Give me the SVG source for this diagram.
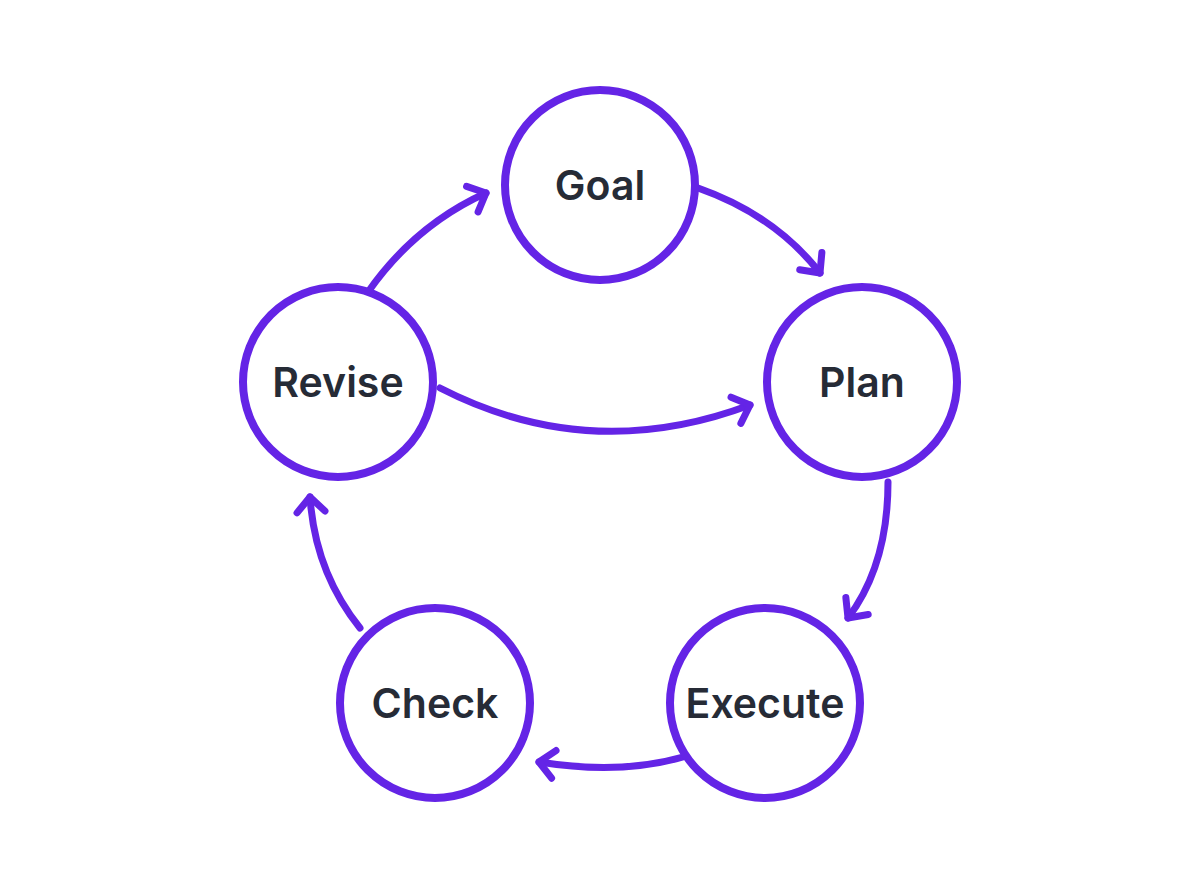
<svg xmlns="http://www.w3.org/2000/svg" width="1200" height="896" viewBox="0 0 1200 896">
<style>
.n{fill:#fff;stroke:#6424e6;stroke-width:8}
.t{font-family:Inter,"Liberation Sans",sans-serif;font-weight:600;font-size:41px;fill:#262b36;text-anchor:middle;dominant-baseline:central}
.c{fill:none;stroke:#6424e6;stroke-width:7;stroke-linecap:round}
</style>
<defs>
<marker id="a" markerUnits="userSpaceOnUse" markerWidth="40" markerHeight="40" refX="20" refY="20" orient="auto" viewBox="0 0 40 40">
<path d="M5 6 L20 20 L5 34" fill="none" stroke="#6424e6" stroke-width="7" stroke-linecap="round" stroke-linejoin="round"/>
</marker>
</defs>
<rect width="1200" height="896" fill="#fff"/>
<g id="connectors">
<path class="c" d="M368 292 Q415 225 486 193" marker-end="url(#a)"/>
<path class="c" d="M698 188 Q775 215 820 273" marker-end="url(#a)"/>
<path class="c" d="M440 388 Q590 465 750 405" marker-end="url(#a)"/>
<path class="c" d="M888 482 Q888 565 848 618" marker-end="url(#a)"/>
<path class="c" d="M683 757 Q620 775 539 762" marker-end="url(#a)"/>
<path class="c" d="M360 628 Q315 572 310 497" marker-end="url(#a)"/>
</g>
<g id="goal"><circle class="n" cx="600" cy="185" r="95"/><text class="t" x="600" y="185">Goal</text></g>
<g id="plan"><circle class="n" cx="862" cy="382" r="95"/><text class="t" x="862" y="382">Plan</text></g>
<g id="execute"><circle class="n" cx="765" cy="703" r="95"/><text class="t" x="765" y="703">Execute</text></g>
<g id="check"><circle class="n" cx="435" cy="703" r="95"/><text class="t" x="435" y="703">Check</text></g>
<g id="revise"><circle class="n" cx="338" cy="382" r="95"/><text class="t" x="338" y="382">Revise</text></g>
</svg>
